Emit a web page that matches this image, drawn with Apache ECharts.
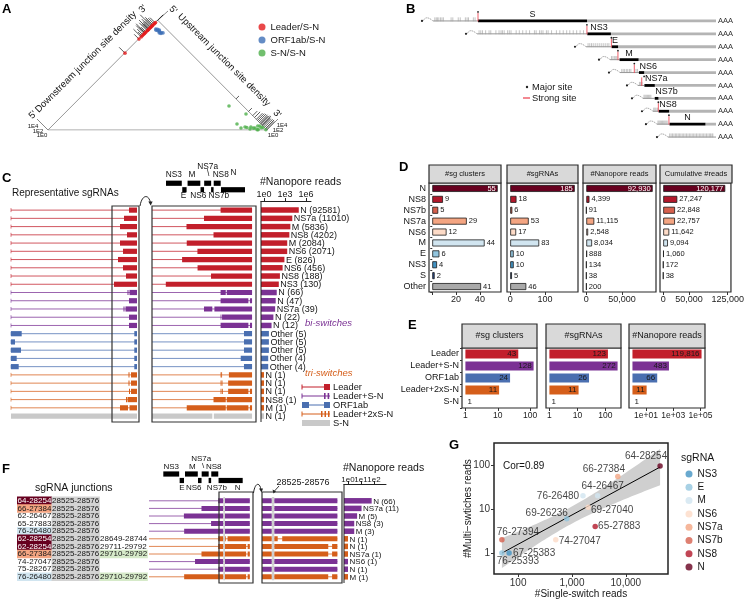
<!DOCTYPE html>
<html>
<head>
<meta charset="utf-8">
<title>sgRNA junction figure</title>
<script src="https://cdn.jsdelivr.net/npm/echarts@6.0.0/dist/echarts.min.js"></script>
<style>
html,body{margin:0;padding:0;background:#ffffff;}
#main{width:747px;height:600px;}
</style>
</head>
<body>
<div id="main"></div>
<script>
const FONT = '"Liberation Sans", Arial, Helvetica, sans-serif';
const GENOME_END = 29903;

/* ================= DATA ================= */
/* Panel A : junction pairs [upstream site, downstream site] */
const aLeaderSN = [[70,20960],[66,24780],[72,25380],[64,25700],[70,26000],[69,26237],[76,26480],[64,26700],[69,27040],[70,27200],[66,27384],[70,27600],[65,27883],[70,28000],[64,28254],[70,28400],[66,28600],[70,28900],[70,29100],[72,29300]];
const aOrf1abSN = [[1000,28450],[1200,28300],[1500,28500],[1800,28600],[2200,28700],[2500,28900],[1600,28800],[2000,28400],[1300,28650],[2300,28550]];
const aSNSN = [[21452,27976],[24860,29210],[24991,26621],[26491,27307],[27992,28536],[28403,29491],[27445,27717],[26080,26624],[28525,28576],[29711,29792],[28649,28744],[27800,28300],[26800,27500],[28100,29200],[29000,29700],[27300,28100],[28800,29400]];
const aDownSites  = [20960,24780,25380,25600,25900,26237,26400,26480,26700,27040,27200,27384,27500,27700,27883,28000,28254,28400,28600,28900,29200];
const aDownCounts = [300,100,2000,50,300,3000,200,8000,100,2500,300,11000,200,600,4400,300,93000,500,2000,300,150];
const aUpSites  = [60,64,66,70,76,21450,24860,26000,26500,27000,27300,27600,27900,28100,28300,28525,28700,28900,29200,29500,29711];
const aUpCounts = [100,300,200,120,150,20,30,100,300,500,1000,2000,3000,1500,5000,8000,3000,2000,4000,6000,3000];

/* Panel B : sgRNA body maps */
const bNames      = ['S','NS3','E','M','NS6','NS7a','NS7b','NS8','N',''];
const bOrfStart   = [21563,25393,26245,26523,27202,27394,27756,27894,28274,null];
const bOrfEnd     = [25384,26220,26472,27191,27387,27759,27887,28259,29533,null];
const bBodyStart  = [19985,21527,25347,26188,26538,27169,27344,27694,27834,28220];
const bStrongSite = [21563,25380,26237,26467,27040,27300,null,27883,28254,null];
const bMajorSite  = [21563,25380,26237,26467,27040,27384,null,27883,28254,null];
const bTicks = [
  [20050,20100,20140,20190,20250,20300,20350,20620,20680,20870,20940,21120,21180,21230,21400,21460],
  [21600,21660,21720,21830,21950,22010,22190,22300,22370,22420,22480,22600,22660,22720,22900,23010,23130,23250,23370,23540,23600,23720,23780,23840,23960,24020,24140,24310,24430,24550,24670,24780,24900,25020,25140,25260],
  [25420,25480,25540,25600,25670,25740,25810,25880,25950,26020,26090,26150],
  [26240,26290,26340,26390,26430],
  [26600,26650,26700,26760,26810,26870,26920,27100,27150],
  [27220,27260,27310],
  [27380,27420,27460,27500,27540,27580,27620],
  [27720,27760,27800,27850],
  [27870,27910,27950,27990,28030,28070,28110,28150,28190],
  [28280,28330,28380,28430,28480,28525,28576,28620,28670,28720,28770,28820,28870,28920,28970,29020,29070,29120,29170,29220,29270,29320,29370,29420,29470,29520,29570,29620,29670,29711,29760,29792]
];

/* Genes (shared by C and F diagrams) */
const geneNames = ['NS3','E','M','NS6','NS7a','NS7b','NS8','N'];
const geneStart = [25393,26245,26523,27202,27394,27756,27894,28274];
const geneEnd   = [26220,26472,27191,27387,27759,27887,28259,29533];
const geneTier  = [0,1,0,1,0,1,0,1];

/* Panel C : representative sgRNAs */
const cNames = ['N','NS7a','M','NS8','M','NS6','E','NS6','NS8','NS3','N','N','NS7a','N','N','Other','Other','Other','Other','Other','N','N','N','NS8','M','N'];
const cReads = [92581,11010,5836,4202,2084,2071,826,456,188,130,66,47,39,22,12,5,5,5,4,4,1,1,1,1,1,1];
const cClass = ['Leader','Leader','Leader','Leader','Leader','Leader','Leader','Leader','Leader','Leader',
  'Leader+S-N','Leader+S-N','Leader+S-N','Leader+S-N','Leader+S-N',
  'ORF1ab','ORF1ab','ORF1ab','ORF1ab','ORF1ab',
  'Leader+2xS-N','Leader+2xS-N','Leader+2xS-N','Leader+2xS-N','Leader+2xS-N','S-N'];
const cLeftBlocks = [
  [[118,126]],[[113,126]],[[109,126]],[[116,126]],[[109,126]],[[112,126]],[[107,126]],[[112,126]],[[115,126]],[[103,126]],
  [[116.5,117.5],[118.5,126]],[[118,126]],[[112.5,113.5],[114.5,126]],[[118,126]],[[118,126]],
  [[0,10.7],[123.3,126]],[[0,4],[123.3,126]],[[0,10],[123.3,126]],[[0,5.7],[123.3,126]],[[0,7.7],[123.3,126]],
  [[117.5,118.5],[120,126]],[[117.5,118.5],[120,126]],[[118,119],[120,126]],[[115,116],[116.5,126]],[[109,117],[118.5,126]],
  [[0,126]]
];
const cBodyStart = [28254,27384,26467,27883,26480,27040,26236,27047,27752,25383,
  28254,28254,27384,28254,28254,
  29480,29480,29480,29310,29480,
  28254,28254,28254,27883,26480,24659];
const cGaps = [[],[],[],[],[],[],[],[],[],[],
  [[28525,28576]],[[29711,29792]],[[27820,27930]],[[28265,28330]],[[29711,29792]],
  [],[],[],[],[],
  [[28265,28290],[28305,28690]],[[28270,28310],[28330,28650]],[[28300,28330],[28345,28650],[29711,29792]],[[28525,28576]],[[28525,28576],[29711,29792]],
  [[27820,27900]]];

/* Panel D */
const dCategories = ['N','NS8','NS7b','NS7a','NS6','M','E','NS3','S','Other'];
const dHeaders = ['#sg clusters','#sgRNAs','#Nanopore reads','Cumulative #reads'];
const dClusters = [55,9,5,29,12,44,6,4,2,41];
const dSgRNAs = [185,18,6,53,17,83,10,10,5,46];
const dReads = [92930,4399,91,11115,2548,8034,888,134,38,200];
const dCumReads = [120177,27247,22848,22757,11642,9094,1060,172,38,null];
const dTickValues = [[0,20,40],[0,100],[0,50000],[0,50000,125000]];
const dLabelValues = [[20,40],[0,100],[0,50000],[0,50000,125000]];

/* Panel E */
const eCategories = ['Leader','Leader+S-N','ORF1ab','Leader+2xS-N','S-N'];
const eHeaders = ['#sg clusters','#sgRNAs','#Nanopore reads'];
const eClusters = [43,128,24,11,1];
const eSgRNAs = [123,272,26,11,1];
const eReads = [119816,483,66,11,1];
const eTickValues = [[1,10,100],[1,10,100],[10,1000,100000]];

/* Panel F */
const fJunction1 = ['64-28254','66-27384','62-26467','65-27883','76-26480','62-28254','62-28254','66-27384','74-27047','75-28267','76-26480'];
const fJunction2 = ['28525-28576','28525-28576','28525-28576','28525-28576','28525-28576','28525-28576','28525-28576','28525-28576','28525-28576','28525-28576','28525-28576'];
const fJunction3 = ['','','','','','28649-28744','29711-29792','29710-29792','','','29710-29792'];
const fMark1 = ['N','NS7a','','','M','N','N','NS7a','','','M'];
const fMark3 = [false,false,false,false,false,false,false,true,false,false,true];
const fGene = ['N','NS7a','M','NS8','M','N','N','NS7a','NS6','N','M'];
const fReads = [66,11,5,3,3,1,1,1,1,1,1];
const fTickValues = [1,10,100];

/* Panel G */
const gNames  = ['64-28254','66-27384','64-26467','76-26480','69-27040','69-26236','65-27883','74-27047','76-27394','67-25383','76-25393'];
const gSingle = [43300,7100,3000,1600,2000,800,2700,500,50,68,50];
const gMulti  = [95,55,20,20,11,6,4,2,2,1,1];
const gGene   = ['N','NS7a','M','M','NS6','E','NS8','NS6','NS7b','NS3','E'];
const gLegendOrder = ['NS3','E','M','NS6','NS7a','NS7b','NS8','N'];

/* ================= STYLES ================= */
const geneColors = {N:'#67001f', NS8:'#b2182b', NS7b:'#d6604d', NS7a:'#f4a582', NS6:'#fddbc7', M:'#d1e5f0', E:'#92c5de', NS3:'#4393c3', S:'#2a4d8f', Other:'#a9a9a9'};
const classColors = {'Leader':'#c21f2b','Leader+S-N':'#7b3294','ORF1ab':'#4a6fb0','Leader+2xS-N':'#d55e1a','S-N':'#c9c9c9'};
const bLabelAlign = {S:'center', NS3:'center', E:'left', M:'center', NS6:'left', NS7a:'left', NS7b:'left', NS8:'left', N:'center'};
const cGeneLabel = {NS3:[0,-8.3], E:[-1,6], M:[-2,-8.3], NS6:[-4,6], NS7a:[0,-16.3], NS7b:[6.5,6], NS8:[3.5,-8.3], N:[0.5,-16.8]};
const fGeneLabel = {NS3:[0,-7], E:[0,7.5], M:[1,-7], NS6:[-6,7.5], NS7a:[-4,-15], NS7b:[7,7.5], NS8:[-1,-7], N:[7,7.5]};
const gLabelOffset = {'64-28254':[-14,-10],'66-27384':[-14,-7],'64-26467':[5,-10],'76-26480':[-25,0],'69-27040':[24,3],'69-26236':[-20,-6],'65-27883':[24,0],'74-27047':[24,1],'76-27394':[16,-8],'67-25383':[25,0],'76-25393':[16,8]};

/* ================= HELPERS ================= */
const grids = [], xAxes = [], yAxes = [], series = [], graphics = [];
function addGrid(g, xa, ya) {
  const gi = grids.length;
  grids.push(g); xa.gridIndex = gi; ya.gridIndex = gi; xAxes.push(xa); yAxes.push(ya);
  return gi;
}
const hiddenVal = (min, max) => ({type:'value', min:min, max:max, show:false, splitLine:{show:false}});
const hiddenCat = (n) => ({type:'category', data:Array.from({length:n}, (_, i) => String(i)), inverse:true, show:false});
const fmtComma = v => Math.round(v).toLocaleString('en-US');
function txt(x, y, text, o) {
  o = o || {};
  graphics.push({type:'text', x:x, y:y, rotation:o.rot || 0, z:100, silent:true,
    style:{text:text, fontSize:o.size || 9, fontFamily:FONT, fontWeight:o.weight || 'normal', fontStyle:o.style || 'normal',
      fill:o.color || '#151515', align:o.align || 'left', verticalAlign:o.va || 'middle'}});
}
function gline(x1, y1, x2, y2, stroke, w, z) {
  graphics.push({type:'line', z:z || 90, silent:true, shape:{x1:x1, y1:y1, x2:x2, y2:y2}, style:{stroke:stroke, lineWidth:w}});
}
function grect(x, y, w, h, fill, stroke, lw, z) {
  graphics.push({type:'rect', z:z || 90, silent:true, shape:{x:x, y:y, width:w, height:h}, style:{fill:fill, stroke:stroke, lineWidth:lw || 1}});
}
function logExpand(vals, frac) {
  const lmax = Math.log10(Math.max.apply(null, vals));
  const lmin = Math.log10(Math.min.apply(null, vals));
  const r = lmax - lmin;
  return [Math.pow(10, lmin - frac * r), Math.pow(10, lmax + frac * r)];
}

/* ================= PANEL A ================= */
const gA = addGrid({left:48, top:20, width:219, height:110}, hiddenVal(0, GENOME_END), hiddenVal(0, GENOME_END / 2));
const toTri = p => [(p[0] + p[1]) / 2, (p[1] - p[0]) / 2];
series.push({type:'line', xAxisIndex:gA, yAxisIndex:gA, silent:true, z:1, symbol:'none',
  data:[[0,0],[GENOME_END/2, GENOME_END/2],[GENOME_END,0],[0,0]], lineStyle:{color:'#8c8c8c', width:0.9}});
const A_DECADE_PX = 3.2;
series.push({type:'custom', xAxisIndex:gA, yAxisIndex:gA, silent:true, z:3,
  data: aDownSites.map(s => [s/2, s/2]),
  renderItem: function (params, api) {
    const i = params.dataIndex;
    const p = api.coord([aDownSites[i]/2, aDownSites[i]/2]);
    const k = Math.log10(aDownCounts[i]) * A_DECADE_PX / Math.SQRT2;
    return {type:'line', shape:{x1:p[0], y1:p[1], x2:p[0]-k, y2:p[1]-k}, style:{stroke:'#111', lineWidth:0.7}};
  }});
series.push({type:'custom', xAxisIndex:gA, yAxisIndex:gA, silent:true, z:3,
  data: aUpSites.map(s => [(s+GENOME_END)/2, (GENOME_END-s)/2]),
  renderItem: function (params, api) {
    const i = params.dataIndex;
    const s = aUpSites[i];
    const p = api.coord([(s+GENOME_END)/2, (GENOME_END-s)/2]);
    const k = Math.log10(aUpCounts[i]) * A_DECADE_PX / Math.SQRT2;
    return {type:'line', shape:{x1:p[0], y1:p[1], x2:p[0]+k, y2:p[1]-k}, style:{stroke:'#111', lineWidth:0.7}};
  }});
[['Leader/S-N', aLeaderSN, '#e41a1c'], ['ORF1ab/S-N', aOrf1abSN, '#3d6fb6'], ['S-N/S-N', aSNSN, '#4daf4a']].forEach(function (d) {
  series.push({type:'scatter', name:d[0], xAxisIndex:gA, yAxisIndex:gA, silent:true, z:4,
    data:d[1].map(toTri), symbolSize:3.6, itemStyle:{color:d[2]}});
});

/* ================= PANEL B ================= */
const gB = addGrid({left:420, top:14.5, width:296, height:129}, hiddenVal(19530, GENOME_END), hiddenCat(bNames.length));
series.push({type:'custom', xAxisIndex:gB, yAxisIndex:gB, silent:true, z:5,
  data: bBodyStart.map((s, i) => [s, i]),
  renderItem: function (params, api) {
    const i = params.dataIndex;
    const X = v => api.coord([v, i])[0];
    const y = api.coord([bBodyStart[i], i])[1];
    const ch = [];
    const xb = X(bBodyStart[i]);
    const xd = xb - 11;
    ch.push({type:'bezierCurve', shape:{x1:xd+1.5, y1:y-0.5, x2:xb, y2:y, cpx1:xd+4, cpy1:y-6}, style:{stroke:'#555', lineWidth:0.7, lineDash:[1,1], fill:null}});
    ch.push({type:'circle', shape:{cx:xd, cy:y, r:1.1}, style:{fill:'#222'}});
    const os = bOrfStart[i], oe = bOrfEnd[i];
    ch.push({type:'line', shape:{x1:xb, y1:y, x2:X(os != null ? os : GENOME_END), y2:y}, style:{stroke:'#8a8a8a', lineWidth:0.9}});
    bTicks[i].forEach(t => ch.push({type:'line', shape:{x1:X(t), y1:y-3.6, x2:X(t), y2:y+0.4}, style:{stroke:'#9a9a9a', lineWidth:0.6}}));
    if (os != null) {
      ch.push({type:'line', shape:{x1:X(oe), y1:y, x2:X(GENOME_END), y2:y}, style:{stroke:'#b4b4b4', lineWidth:2.8}});
      ch.push({type:'line', shape:{x1:X(os), y1:y, x2:X(oe), y2:y}, style:{stroke:'#000', lineWidth:2.8}});
      const al = bLabelAlign[bNames[i]];
      ch.push({type:'text', style:{text:bNames[i], x: al === 'center' ? (X(os)+X(oe))/2 : X(os)+0.5, y:y-6.5, align:al, verticalAlign:'middle', fontSize:9, fontFamily:FONT, fill:'#111'}});
    }
    if (bStrongSite[i] != null) {
      ch.push({type:'line', shape:{x1:X(bStrongSite[i]), y1:y-8, x2:X(bStrongSite[i]), y2:y+0.5}, style:{stroke:'#ec4a57', lineWidth:0.9}});
    }
    if (bMajorSite[i] != null) {
      ch.push({type:'circle', shape:{cx:X(bMajorSite[i]), cy:y-9, r:0.9}, style:{fill:'#222'}});
    }
    ch.push({type:'text', style:{text:'AAA', x:X(GENOME_END)+2, y:y, align:'left', verticalAlign:'middle', fontSize:7.5, fontFamily:FONT, fill:'#333'}});
    return {type:'group', children:ch};
  }});

/* ================= gene diagram helper ================= */
function geneDiagram(gi, labelStyle, fontSize, slashOffset) {
  series.push({type:'custom', xAxisIndex:gi, yAxisIndex:gi, silent:true, z:5,
    data: geneStart.map((s, i) => [s, geneTier[i]]),
    renderItem: function (params, api) {
      const i = params.dataIndex;
      const y = api.coord([geneStart[i], geneTier[i]])[1];
      const x0 = api.coord([geneStart[i], 0])[0], x1 = api.coord([geneEnd[i], 0])[0];
      const ls = labelStyle[geneNames[i]];
      const cx = (x0 + x1) / 2;
      const ch = [
        {type:'rect', shape:{x:x0, y:y-2.6, width:x1-x0, height:5.2}, style:{fill:'#000'}},
        {type:'text', style:{text:geneNames[i], x:cx+ls[0], y:y+ls[1], align:'center', verticalAlign:'middle', fontSize:fontSize, fontFamily:FONT, fill:'#111'}}
      ];
      if (geneNames[i] === 'NS7a') {
        ch.push({type:'text', style:{text:'\\', x:cx+slashOffset[0], y:y+slashOffset[1], align:'center', verticalAlign:'middle', fontSize:fontSize, fontFamily:FONT, fill:'#111'}});
      }
      return {type:'group', children:ch};
    }});
}

/* structure renderer for genome-coordinate regions */
function structSeries(gi, bodyStarts, gapsArr, classes, opts) {
  series.push({type:'custom', xAxisIndex:gi, yAxisIndex:gi, silent:true, z:5, clip:true,
    data: bodyStarts.map((s, i) => [s, i]),
    renderItem: function (params, api) {
      const i = params.dataIndex;
      const cs = params.coordSys;
      const X = v => Math.min(Math.max(api.coord([v, i])[0], cs.x), cs.x + cs.width);
      const y = api.coord([bodyStarts[i], i])[1];
      const col = classColors[classes[i]];
      const ch = [];
      if (classes[i] !== 'S-N') {
        ch.push({type:'line', shape:{x1:cs.x, y1:y, x2:X(GENOME_END), y2:y}, style:{stroke:col, lineWidth:1, opacity:0.75}});
      }
      let s = bodyStarts[i];
      const segs = [];
      gapsArr[i].forEach(g => { segs.push([s, g[0]]); s = g[1]; });
      segs.push([s, GENOME_END]);
      segs.forEach(sg => {
        const xa = X(sg[0]), xb = X(sg[1]);
        if (xb > xa) ch.push({type:'rect', shape:{x:xa, y:y-opts.h/2, width:Math.max(xb-xa, 0.8), height:opts.h}, style:{fill:col}});
      });
      if (opts.mark) {
        const m0 = X(opts.mark[0]), m1 = X(opts.mark[1]);
        const band = api.size([0, 1])[1];
        ch.push({type:'rect', shape:{x:m0, y:y-band/2, width:Math.max(m1-m0, 1.6), height:band}, style:{fill:'#cfcfcf'}});
      }
      return {type:'group', children:ch};
    }});
}

/* reads bar renderer (log axis) */
function readsBars(gi, reads, classes, names, h, fontSize) {
  series.push({type:'custom', xAxisIndex:gi, yAxisIndex:gi, silent:true, z:5,
    data: reads.map((r, i) => [r, i]),
    renderItem: function (params, api) {
      const i = params.dataIndex;
      const cs = params.coordSys;
      const p = api.coord([reads[i], i]);
      return {type:'group', children:[
        {type:'rect', shape:{x:cs.x, y:p[1]-h/2, width:Math.max(p[0]-cs.x, 0.5), height:h}, style:{fill:classColors[classes[i]]}},
        {type:'text', style:{text:names[i] + ' (' + reads[i] + ')', x:p[0]+1.5, y:p[1]+0.5, align:'left', verticalAlign:'middle', fontSize:fontSize, fontFamily:FONT, fill:'#151515'}}
      ]};
    }});
}
const logTickLabel = v => '1e' + Math.round(Math.log10(v));

/* ================= PANEL C ================= */
const gCG = addGrid({left:152, top:180, width:104, height:13}, hiddenVal(24659, 30110), hiddenCat(2));
geneDiagram(gCG, cGeneLabel, 8.3, [0.5, -9.3]);

const C_TOP = 206, C_H = 214.2;
const gCL = addGrid({left:11, top:C_TOP, width:128, height:C_H}, hiddenVal(0, 128), hiddenCat(cNames.length));
series.push({type:'custom', xAxisIndex:gCL, yAxisIndex:gCL, silent:true, z:5,
  data: cNames.map((n, i) => [0, i]),
  renderItem: function (params, api) {
    const i = params.dataIndex;
    const X = v => api.coord([v, i])[0];
    const y = api.coord([0, i])[1];
    const col = classColors[cClass[i]];
    const ch = [];
    if (cClass[i] !== 'S-N') {
      ch.push({type:'line', shape:{x1:X(0), y1:y, x2:X(126), y2:y}, style:{stroke:col, lineWidth:1, opacity:0.75}});
      ch.push({type:'line', shape:{x1:X(0), y1:y-2, x2:X(0), y2:y+2}, style:{stroke:col, lineWidth:0.8, opacity:0.75}});
    }
    cLeftBlocks[i].forEach(b => ch.push({type:'rect', shape:{x:X(b[0]), y:y-2.6, width:Math.max(X(b[1])-X(b[0]), 0.8), height:5.2}, style:{fill:col}}));
    return {type:'group', children:ch};
  }});
const gCR = addGrid({left:152, top:C_TOP, width:104, height:C_H}, hiddenVal(24659, 30110), hiddenCat(cNames.length));
structSeries(gCR, cBodyStart, cGaps, cClass, {h:5.2});

const gCB = addGrid({left:261, top:C_TOP, width:50, height:C_H},
  {type:'log', min:0.373, max:5.18e6, position:'top', offset:5, splitLine:{show:false},
   axisLine:{show:true, lineStyle:{color:'#222', width:1}},
   axisTick:{show:true, length:3, customValues:[1,1e3,1e6], lineStyle:{color:'#222'}},
   axisLabel:{customValues:[1,1e3,1e6], hideOverlap:false, formatter:logTickLabel, fontSize:9, fontFamily:FONT, color:'#151515', margin:2}},
  hiddenCat(cNames.length));
readsBars(gCB, cReads, cClass, cNames, 5.5, 9);

/* ================= PANEL D ================= */
const D_LEFT = [429,507,583,660], D_W = [72,71,73,72];
[dClusters, dSgRNAs, dReads, dCumReads].forEach(function (vals, k) {
  const vmax = Math.max.apply(null, vals.filter(v => v != null));
  const mn = k === 3 ? -6250 : -0.05 * vmax, mx = k === 3 ? 131250 : 1.05 * vmax;
  const gi = addGrid({left:D_LEFT[k], top:183, width:D_W[k], height:109, show:true, borderColor:'#2b2b2b', borderWidth:1.2, backgroundColor:'#fff'},
    {type:'value', min:mn, max:mx, splitLine:{show:false}, axisLine:{show:false},
     axisTick:{show:true, length:3, customValues:dTickValues[k], lineStyle:{color:'#333'}},
     axisLabel:{customValues:dLabelValues[k], hideOverlap:false, formatter:fmtComma, fontSize:9, fontFamily:FONT, color:'#222', margin:3}},
    {type:'category', data:dCategories, inverse:true, axisLine:{show:false},
     axisTick:{show:k === 0, length:2, interval:0, lineStyle:{color:'#333'}},
     axisLabel:{show:k === 0, interval:0, hideOverlap:false, fontSize:9, fontFamily:FONT, color:'#151515', margin:3}});
  series.push({type:'bar', xAxisIndex:gi, yAxisIndex:gi, silent:true, barWidth:7, z:5,
    itemStyle:{borderColor:'#1a1a1a', borderWidth:0.8},
    label:{show:true, position:'right', distance:2, fontSize:7.5, fontFamily:FONT, color:'#151515', formatter:p => fmtComma(p.value)},
    data: vals.map((v, i) => v == null ? '-' : {value:v, itemStyle:{color:geneColors[dCategories[i]]},
      label: i === 0 ? {position:'insideRight', color:'#ffffff', distance:2} : undefined})});
  grect(D_LEFT[k], 165, D_W[k], 18, '#d9d9d9', '#2b2b2b', 1.2);
  txt(D_LEFT[k] + D_W[k] / 2, 174, dHeaders[k], {size:7.5, align:'center'});
});

/* ================= PANEL E ================= */
const E_LEFT = [462,546,629], E_W = [75,75,76];
const eExpTick = v => { const e = Math.round(Math.log10(v)); return '1e+' + (e < 10 ? '0' + e : e); };
[eClusters, eSgRNAs, eReads].forEach(function (vals, k) {
  const ext = logExpand(vals, 0.05);
  const gi = addGrid({left:E_LEFT[k], top:348, width:E_W[k], height:60, show:true, borderColor:'#2b2b2b', borderWidth:1.2, backgroundColor:'#fff'},
    {type:'log', min:ext[0], max:ext[1], splitLine:{show:false}, axisLine:{show:false},
     axisTick:{show:true, length:3, customValues:eTickValues[k], lineStyle:{color:'#333'}},
     axisLabel:{customValues:eTickValues[k], hideOverlap:false, formatter: k === 2 ? eExpTick : (v => String(v)), fontSize:8.5, fontFamily:FONT, color:'#222', margin:3}},
    {type:'category', data:eCategories, inverse:true, axisLine:{show:false},
     axisTick:{show:k === 0, length:2, interval:0, lineStyle:{color:'#333'}},
     axisLabel:{show:k === 0, interval:0, hideOverlap:false, fontSize:9, fontFamily:FONT, color:'#151515', margin:3}});
  series.push({type:'bar', xAxisIndex:gi, yAxisIndex:gi, silent:true, barWidth:9, z:5,
    label:{show:true, position:'insideRight', distance:2, fontSize:8, fontFamily:FONT, color:'#1a1a1a', formatter:p => fmtComma(p.value)},
    data: vals.map((v, i) => ({value:v, itemStyle:{color:classColors[eCategories[i]]},
      label: v <= 1 ? {position:'right', distance:2} : undefined}))});
  grect(E_LEFT[k], 324, E_W[k], 24, '#d9d9d9', '#2b2b2b', 1.2);
  txt(E_LEFT[k] + E_W[k] / 2, 336, eHeaders[k], {size:9, align:'center'});
});

/* ================= PANEL F ================= */
const F_TOP = 497, F_H = 83.6;
const fParse = s => s ? s.split('-').map(Number) : null;
const fBody = fJunction1.map(j => fParse(j)[1]);
const fGaps = fJunction2.map((j, i) => [fParse(j)].concat(fJunction3[i] ? [fParse(fJunction3[i])] : []));
const fClass = fJunction3.map(j => j ? 'Leader+2xS-N' : 'Leader+S-N');
const fCommon = fParse(fJunction2[0]);

const gFG = addGrid({left:149, top:470.75, width:104, height:13}, hiddenVal(24647, 30070), hiddenCat(2));
geneDiagram(gFG, fGeneLabel, 8, [-2, -8]);

const gFT = addGrid({left:17, top:F_TOP, width:130, height:F_H}, hiddenVal(0, 130), hiddenCat(fJunction1.length));
series.push({type:'custom', xAxisIndex:gFT, yAxisIndex:gFT, silent:true, z:5,
  data: fJunction1.map((j, i) => [0, i]),
  renderItem: function (params, api) {
    const i = params.dataIndex;
    const y = api.coord([0, i])[1];
    const x0 = params.coordSys.x;
    const base = {fontSize:8, fontFamily:FONT, align:'left', verticalAlign:'middle', lineHeight:8, padding:[0.5,0.6,0,0.6]};
    const m = fMark1[i];
    const ch = [
      {type:'text', style:Object.assign({}, base, {text:fJunction1[i], x:x0, y:y, fill: m === 'N' ? '#ffffff' : '#151515', backgroundColor: m ? geneColors[m] : 'transparent'})},
      {type:'text', style:Object.assign({}, base, {text:fJunction2[i], x:x0+34.5, y:y, fill:'#151515', backgroundColor:'#d3d3d3'})}
    ];
    if (fJunction3[i]) ch.push({type:'text', style:Object.assign({}, base, {text:fJunction3[i], x:x0+82.5, y:y, fill:'#151515', backgroundColor: fMark3[i] ? '#d6eac9' : 'transparent'})});
    return {type:'group', children:ch};
  }});
const gFL = addGrid({left:149, top:F_TOP, width:104, height:F_H}, hiddenVal(24647, 30070), hiddenCat(fJunction1.length));
structSeries(gFL, fBody, fGaps, fClass, {h:5, mark:fCommon});
const gFR = addGrid({left:262, top:F_TOP, width:80, height:F_H}, hiddenVal(28319, 30000), hiddenCat(fJunction1.length));
structSeries(gFR, fBody, fGaps, fClass, {h:5, mark:fCommon});
const gFB = addGrid({left:344, top:F_TOP, width:42, height:F_H},
  {type:'log', min:0.49, max:835, position:'top', offset:13, splitLine:{show:false},
   axisLine:{show:true, lineStyle:{color:'#222', width:1}},
   axisTick:{show:true, length:3, customValues:fTickValues, lineStyle:{color:'#222'}},
   axisLabel:{show:false}},
  hiddenCat(fJunction1.length));
readsBars(gFB, fReads, fClass, fGene, 5.5, 8);
series.push({type:'custom', xAxisIndex:gFB, yAxisIndex:gFB, silent:true, z:6, clip:false,
  data: fTickValues.map(v => [v, 0]),
  renderItem: function (params, api) {
    const v = fTickValues[params.dataIndex];
    const x = api.coord([v, 0])[0];
    return {type:'text', style:{text:logTickLabel(v), x:x, y:params.coordSys.y - 17.5, align:'center', verticalAlign:'middle', fontSize:8, fontFamily:FONT, fill:'#151515'}};
  }});

/* ================= PANEL G ================= */
const gLx = gSingle.map(v => Math.log10(v)), gLy = gMulti.map(v => Math.log10(v));
const gN = gLx.length;
const gMx = gLx.reduce((a, b) => a + b, 0) / gN, gMy = gLy.reduce((a, b) => a + b, 0) / gN;
let gSxx = 0, gSxy = 0;
for (let i = 0; i < gN; i++) { gSxx += (gLx[i]-gMx)*(gLx[i]-gMx); gSxy += (gLx[i]-gMx)*(gLy[i]-gMy); }
const gSlope = gSxy / gSxx, gIcpt = gMy - gSlope * gMx;
let gSse = 0;
for (let i = 0; i < gN; i++) { const r = gLy[i] - (gIcpt + gSlope*gLx[i]); gSse += r*r; }
const gS = Math.sqrt(gSse / (gN - 2));
const T_975_DF9 = 2.262;
const gXmin = Math.min.apply(null, gLx), gXmax = Math.max.apply(null, gLx);
const bandX = [], bandLo = [], bandHi = [];
for (let k = 0; k <= 60; k++) {
  const x = gXmin + (gXmax - gXmin) * k / 60;
  const fit = gIcpt + gSlope * x;
  const se = gS * Math.sqrt(1/gN + (x-gMx)*(x-gMx)/gSxx);
  bandX.push(x); bandLo.push(fit - T_975_DF9*se); bandHi.push(fit + T_975_DF9*se);
}
const yLo = Math.min.apply(null, bandLo), yHi = Math.max.apply(null, bandHi);
const gYmin = Math.pow(10, yLo - 0.05*(yHi-yLo)), gYmax = Math.pow(10, yHi + 0.05*(yHi-yLo));
const gXr = gXmax - gXmin;
const gXaxMin = Math.pow(10, gXmin - 0.05*gXr), gXaxMax = Math.pow(10, gXmax + 0.05*gXr);
const gG = addGrid({left:494, top:443, width:174, height:131, show:true, borderColor:'#222', borderWidth:1.5, backgroundColor:'#fff'},
  {type:'log', min:gXaxMin, max:gXaxMax, splitLine:{show:false}, axisLine:{show:false},
   axisTick:{show:true, length:3, customValues:[100,1000,10000], lineStyle:{color:'#333'}},
   axisLabel:{customValues:[100,1000,10000], hideOverlap:false, formatter:fmtComma, fontSize:10, fontFamily:FONT, color:'#333', margin:4},
   name:'#Single-switch reads', nameLocation:'middle', nameGap:15, nameMoveOverlap:false, nameTextStyle:{fontSize:10, fontFamily:FONT, color:'#151515'}},
  {type:'log', min:gYmin, max:gYmax, splitLine:{show:false}, axisLine:{show:false},
   axisTick:{show:true, length:3, customValues:[1,10,100], lineStyle:{color:'#333'}},
   axisLabel:{customValues:[1,10,100], hideOverlap:false, formatter:v => String(Math.round(v)), fontSize:10, fontFamily:FONT, color:'#333', margin:4},
   name:'#Multi\u2212swtiches reads', nameLocation:'middle', nameGap:21, nameMoveOverlap:false, nameTextStyle:{fontSize:10, fontFamily:FONT, color:'#151515'}});
series.push({type:'custom', xAxisIndex:gG, yAxisIndex:gG, silent:true, z:2,
  data:[[Math.pow(10, bandX[0]), Math.pow(10, bandHi[0])]],
  renderItem: function (params, api) {
    const pts = [];
    for (let k = 0; k < bandX.length; k++) pts.push(api.coord([Math.pow(10, bandX[k]), Math.pow(10, bandHi[k])]));
    for (let k = bandX.length - 1; k >= 0; k--) pts.push(api.coord([Math.pow(10, bandX[k]), Math.pow(10, bandLo[k])]));
    return {type:'polygon', shape:{points:pts}, style:{fill:'#cfcfcf'}};
  }});
series.push({type:'line', xAxisIndex:gG, yAxisIndex:gG, silent:true, z:3, symbol:'none',
  data:[[Math.pow(10, gXmin), Math.pow(10, gIcpt + gSlope*gXmin)], [Math.pow(10, gXmax), Math.pow(10, gIcpt + gSlope*gXmax)]],
  lineStyle:{color:'#000', width:1}});
gLegendOrder.forEach(function (gene) {
  const data = [];
  gNames.forEach((n, i) => { if (gGene[i] === gene) data.push({value:[gSingle[i], gMulti[i], n], label:{offset:gLabelOffset[n]}}); });
  series.push({type:'scatter', name:gene, xAxisIndex:gG, yAxisIndex:gG, silent:true, z:4, symbolSize:5.5,
    itemStyle:{color:geneColors[gene]}, data:data,
    label:{show:true, position:'inside', formatter:p => p.value[2], fontSize:10, fontFamily:FONT, color:'#151515'}});
});

/* ================= TEXT / DECORATIONS ================= */
[['A',2,9],['B',406,9],['C',2,178],['D',399,167],['E',408,325],['F',2,469],['G',449,445]].forEach(l => txt(l[1], l[2], l[0], {size:13, weight:'bold', color:'#000'}));

// A
txt(86, 62, 'Downstream junction site density', {size:9.5, align:'center', rot:Math.PI/4});
txt(224, 60, 'Upstream junction site density', {size:9.5, align:'center', rot:-Math.PI/4});
txt(33, 115, "5'", {size:9.5, align:'center', rot:Math.PI/4});
txt(143, 9, "3'", {size:9.5, align:'center', rot:Math.PI/4});
txt(173, 10, "5'", {size:9.5, align:'center', rot:-Math.PI/4});
txt(277, 114, "3'", {size:9.5, align:'center', rot:-Math.PI/4});
gline(48, 130, 37, 119, '#555', 0.7);
gline(267, 130, 278, 119, '#555', 0.7);
gline(158, 20, 168, 11, '#555', 0.7);
txt(33, 126, '1E4', {size:6, align:'center'}); txt(38, 131, '1E2', {size:6, align:'center'}); txt(42, 135.5, '1E0', {size:6, align:'center'});
txt(282, 125, '1E4', {size:6, align:'center'}); txt(278, 130.5, '1E2', {size:6, align:'center'}); txt(273, 135.5, '1E0', {size:6, align:'center'});

// B legend
graphics.push({type:'circle', z:90, silent:true, shape:{cx:527, cy:87, r:1.2}, style:{fill:'#222'}});
txt(532, 87, 'Major site', {size:9.3});
gline(523, 98, 530, 98, '#ec4a57', 1.3);
txt(532, 98, 'Strong site', {size:9.3});

// C
txt(12, 193, 'Representative sgRNAs', {size:10});
txt(260, 182, '#Nanopore reads', {size:10.5});
grect(112, 206, 27, 216, null, '#333', 1.2, 95);
grect(152, 206, 104, 216, null, '#333', 1.2, 95);
graphics.push({type:'bezierCurve', z:95, silent:true, shape:{x1:140, y1:206, x2:150.5, y2:203, cpx1:142, cpy1:194, cpx2:149, cpy2:194}, style:{stroke:'#222', lineWidth:1, fill:null}});
graphics.push({type:'polygon', z:95, silent:true, shape:{points:[[148.3,201.5],[152.6,201.5],[150.7,205.5]]}, style:{fill:'#222'}});
gline(261, 201, 261, 422, '#222', 1);
txt(305, 323, 'bi-switches', {size:9.5, style:'italic', color:'#7b3294'});
txt(305, 373, 'tri-switches', {size:9.5, style:'italic', color:'#d55e1a'});
(function () {
  const ys = [387, 396, 405, 414, 423];
  const labels = ['Leader','Leader+S-N','ORF1ab','Leader+2xS-N','S-N'];
  const c = classColors;
  gline(302, ys[0], 325, ys[0], c['Leader'], 1); gline(302, ys[0]-2.5, 302, ys[0]+2.5, c['Leader'], 1); grect(324, ys[0]-3, 6, 6, c['Leader'], null, 0);
  gline(302, ys[1], 330, ys[1], c['Leader+S-N'], 1); gline(302, ys[1]-2.5, 302, ys[1]+2.5, c['Leader+S-N'], 1);
  grect(324, ys[1]-3, 1.6, 6, c['Leader+S-N'], null, 0); grect(327.6, ys[1]-3, 1.6, 6, c['Leader+S-N'], null, 0);
  grect(302, ys[2]-3, 7, 6, c['ORF1ab'], null, 0); gline(309, ys[2], 324, ys[2], c['ORF1ab'], 1); grect(324, ys[2]-3, 6, 6, c['ORF1ab'], null, 0);
  gline(302, ys[3], 330, ys[3], c['Leader+2xS-N'], 1); gline(302, ys[3]-2.5, 302, ys[3]+2.5, c['Leader+2xS-N'], 1);
  grect(321, ys[3]-3, 1.5, 6, c['Leader+2xS-N'], null, 0); grect(324.5, ys[3]-3, 1.5, 6, c['Leader+2xS-N'], null, 0); grect(328, ys[3]-3, 1.5, 6, c['Leader+2xS-N'], null, 0);
  grect(302, ys[4]-3, 28, 6, c['S-N'], null, 0);
  labels.forEach((l, i) => txt(333, ys[i], l, {size:9.3}));
})();

// F
txt(35, 488, 'sgRNA junctions', {size:10.5});
txt(343, 468, '#Nanopore reads', {size:10.5});
grect(219, 492, 34, 91, null, '#333', 1.2, 95);
grect(262, 492, 80, 91, null, '#333', 1.2, 95);
gline(344, 484, 344, 583, '#222', 1);
graphics.push({type:'bezierCurve', z:95, silent:true, shape:{x1:253.5, y1:493, x2:261, y2:490, cpx1:255, cpy1:482, cpx2:260, cpy2:482}, style:{stroke:'#222', lineWidth:1, fill:null}});
graphics.push({type:'polygon', z:95, silent:true, shape:{points:[[259,488.5],[263,488.5],[261.5,492.5]]}, style:{fill:'#222'}});
txt(303, 483, '28525-28576', {size:9, align:'center'});
gline(279, 486, 274.5, 491, '#222', 0.9);
graphics.push({type:'polygon', z:95, silent:true, shape:{points:[[272.6,489.6],[276,491.6],[273.4,493.6]]}, style:{fill:'#222'}});

// G
txt(503, 466, 'Cor=0.89', {size:10});
txt(681, 458, 'sgRNA', {size:10.5});

/* ================= OPTION ================= */
const option = {
  animation:false,
  backgroundColor:'#ffffff',
  textStyle:{fontFamily:FONT},
  grid:grids, xAxis:xAxes, yAxis:yAxes, series:series,
  legend:[
    {data:['Leader/S-N','ORF1ab/S-N','S-N/S-N'], left:253.5, top:17, orient:'vertical', icon:'circle', itemWidth:7, itemHeight:7, itemGap:3, selectedMode:false,
     textStyle:{fontSize:9.5, fontFamily:FONT, color:'#151515'}},
    {data:gLegendOrder, left:680.5, top:464, orient:'vertical', icon:'circle', itemWidth:7, itemHeight:7, itemGap:3.3, selectedMode:false,
     textStyle:{fontSize:10, fontFamily:FONT, color:'#151515'}}
  ],
  graphic:{elements:graphics}
};
const chart = echarts.init(document.getElementById('main'), null, {renderer:'canvas'});
chart.setOption(option);
</script>
</body>
</html>
